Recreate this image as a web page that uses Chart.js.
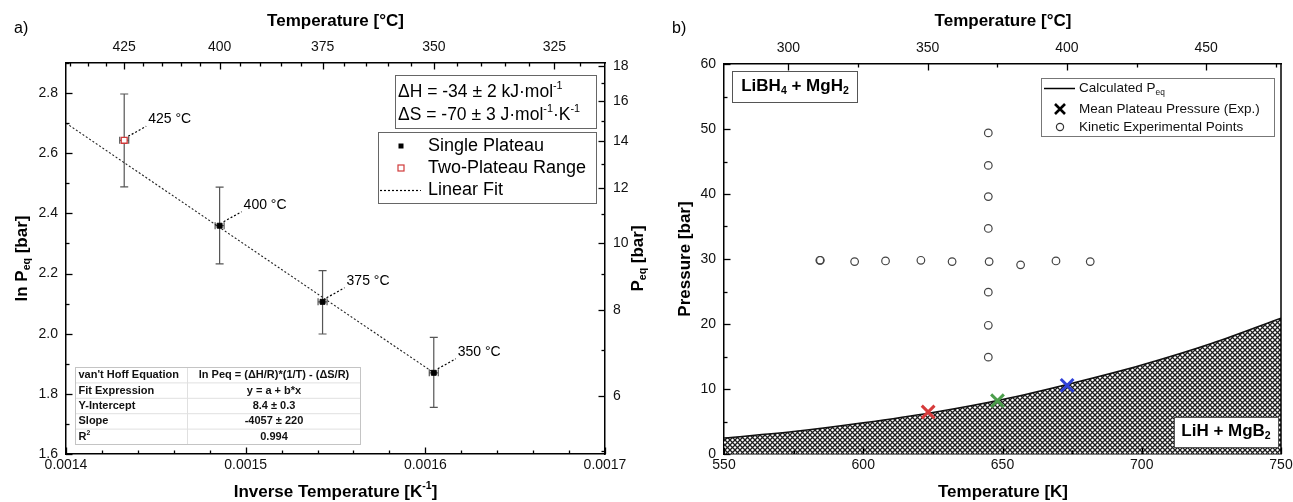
<!DOCTYPE html>
<html>
<head>
<meta charset="utf-8">
<script src="https://cdn.jsdelivr.net/npm/chart.js@4.4.0/dist/chart.umd.min.js"></script>
<style>
  body { margin: 0; background: #fff; }
  #wrap { position: relative; width: 1293px; height: 502px; }
  canvas { position: absolute; top: 0; }
</style>
</head>
<body>
<div id="wrap">
  <canvas id="plotA" width="660" height="502" style="left:0"></canvas>
  <canvas id="plotB" width="633" height="502" style="left:660px"></canvas>
</div>
<script>
// ---- panel a) van't Hoff data ----
const pointTempC = [425, 400, 375, 350];
const invT = [0.0014324, 0.0014855, 0.0015428, 0.0016047];
const lnP = [2.643, 2.359, 2.106, 1.870];
const lnPHigh = [2.797, 2.487, 2.210, 1.988];
const lnPLow = [2.488, 2.232, 1.999, 1.755];
const invTErr = [0.0000025, 0.0000025, 0.0000025, 0.0000025];
const twoPlateau = [true, false, false, false];
const fitX = [0.0014, 0.0016047];
const fitY = [2.700, 1.870];
const topTempC = [425, 400, 375, 350, 325];
const pressureTicks = [6, 8, 10, 12, 14, 16, 18];
const tableRows = [
  ["van't Hoff Equation", "ln Peq = (\u0394H/R)*(1/T) - (\u0394S/R)"],
  ["Fit Expression", "y = a + b*x"],
  ["Y-Intercept", "8.4 \u00b1 0.3"],
  ["Slope", "-4057 \u00b1 220"],
  ["R\u00b2", "0.994"]
];

// ---- panel b) phase diagram data ----
const curveK = [550, 575, 600, 625, 650, 675, 700, 725, 750];
const curveP = [2.46, 3.45, 4.8, 6.4, 8.4, 10.9, 13.7, 17.0, 20.9];
const kineticK = [584.4, 584.6, 596.9, 608.0, 620.7, 631.9, 645.2, 656.5, 669.2, 681.5,
                  644.9, 644.9, 644.9, 644.9, 644.9, 644.9, 644.9];
const kineticP = [29.8, 29.8, 29.6, 29.7, 29.8, 29.6, 29.6, 29.1, 29.7, 29.6,
                  49.4, 44.4, 39.6, 34.7, 24.9, 19.8, 14.9];
const meanK = [623.3, 648.2, 673.2];
const meanP = [6.46, 8.2, 10.55];
const meanColors = ['#d63a3a', '#4c9e4c', '#3142d8'];
const topTempB = [300, 350, 400, 450];

const FONT = "'Liberation Sans', Arial, sans-serif";
const tickFont = { family: FONT, size: 14 };

// text with sub / superscripts: parts = [[text, 'n'|'sub'|'sup'], ...]
function rich(ctx, parts, x, y, size, weight, align) {
  const f = s => weight + ' ' + s + 'px ' + FONT;
  let w = 0;
  for (const [t, m] of parts) {
    ctx.font = f(m === 'n' ? size : size * 0.62);
    w += ctx.measureText(t).width;
  }
  let cx = align === 'center' ? x - w / 2 : align === 'right' ? x - w : x;
  ctx.textAlign = 'left';
  ctx.textBaseline = 'middle';
  for (const [t, m] of parts) {
    const s = m === 'n' ? size : size * 0.62;
    ctx.font = f(s);
    const dy = m === 'sub' ? size * 0.32 : m === 'sup' ? -size * 0.33 : 0;
    ctx.fillText(t, cx, y + dy);
    cx += ctx.measureText(t).width;
  }
}

// inward tick marks, long for major ones
const inwardTicks = {
  id: 'inwardTicks',
  afterDraw(chart) {
    const ctx = chart.ctx, a = chart.chartArea;
    ctx.save();
    ctx.strokeStyle = '#000';
    ctx.lineWidth = 1.3;
    for (const s of Object.values(chart.scales)) {
      for (const t of s.ticks) {
        const len = t.major ? 6.5 : 3.5;
        const p = Math.round(s.getPixelForValue(t.value)) + 0.5;
        ctx.beginPath();
        if (s.position === 'bottom') { ctx.moveTo(p, a.bottom); ctx.lineTo(p, a.bottom - len); }
        else if (s.position === 'top') { ctx.moveTo(p, a.top); ctx.lineTo(p, a.top + len); }
        else if (s.position === 'left') { ctx.moveTo(a.left, p); ctx.lineTo(a.left + len, p); }
        else { ctx.moveTo(a.right, p); ctx.lineTo(a.right - len, p); }
        ctx.stroke();
      }
    }
    ctx.restore();
  }
};

function fixSize(prop, size) {
  return s => {
    s[prop] = size;
    s.paddingLeft = 0; s.paddingRight = 0; s.paddingTop = 0; s.paddingBottom = 0;
  };
}
const axisCommon = {
  type: 'linear',
  grid: { drawOnChartArea: false, drawTicks: false },
  border: { color: '#000', width: 1.5 }
};
function tickOpts(padding, fmt) {
  return {
    autoSkip: false, maxRotation: 0, minRotation: 0, padding: padding,
    color: '#111', font: tickFont,
    callback: (v, i, t) => (t[i] && t[i].major ? fmt(v) : '')
  };
}

// ================= panel a =================
const panelA = {
  id: 'panelA',
  beforeDatasetsDraw(chart) {
    const ctx = chart.ctx, sx = chart.scales.x, sy = chart.scales.y;
    ctx.save();
    ctx.strokeStyle = '#555';
    ctx.lineWidth = 1.2;
    invT.forEach((xv, i) => {
      const px = sx.getPixelForValue(xv);
      const py = sy.getPixelForValue(lnP[i]);
      const hi = sy.getPixelForValue(lnPHigh[i]);
      const lo = sy.getPixelForValue(lnPLow[i]);
      const xl = sx.getPixelForValue(xv - invTErr[i]);
      const xr = sx.getPixelForValue(xv + invTErr[i]);
      ctx.beginPath();
      ctx.moveTo(px, hi); ctx.lineTo(px, lo);
      ctx.moveTo(px - 4, hi); ctx.lineTo(px + 4, hi);
      ctx.moveTo(px - 4, lo); ctx.lineTo(px + 4, lo);
      ctx.moveTo(xl, py); ctx.lineTo(xr, py);
      ctx.moveTo(xl, py - 3.5); ctx.lineTo(xl, py + 3.5);
      ctx.moveTo(xr, py - 3.5); ctx.lineTo(xr, py + 3.5);
      ctx.stroke();
    });
    ctx.restore();
  },
  afterDraw(chart) {
    const ctx = chart.ctx, a = chart.chartArea, sx = chart.scales.x, sy = chart.scales.y;
    ctx.save();
    ctx.fillStyle = '#000';
    // panel letter and axis titles
    rich(ctx, [['a)', 'n']], 14, 29, 16, 'normal', 'left');
    rich(ctx, [['Temperature [\u00b0C]', 'n']], (a.left + a.right) / 2, 21, 17, 'bold', 'center');
    rich(ctx, [['Inverse Temperature [K', 'n'], ['-1', 'sup'], [']', 'n']], (a.left + a.right) / 2, 492, 17, 'bold', 'center');
    ctx.save();
    ctx.translate(22, (a.top + a.bottom) / 2);
    ctx.rotate(-Math.PI / 2);
    rich(ctx, [['ln P', 'n'], ['eq', 'sub'], [' [bar]', 'n']], 0, 0, 17, 'bold', 'center');
    ctx.restore();
    ctx.save();
    ctx.translate(638, (a.top + a.bottom) / 2);
    ctx.rotate(-Math.PI / 2);
    rich(ctx, [['P', 'n'], ['eq', 'sub'], [' [bar]', 'n']], 0, 0, 17, 'bold', 'center');
    ctx.restore();

    // temperature labels with dotted leaders
    ctx.strokeStyle = '#000';
    ctx.lineWidth = 1.2;
    ctx.setLineDash([2, 2]);
    invT.forEach((xv, i) => {
      const px = sx.getPixelForValue(xv), py = sy.getPixelForValue(lnP[i]);
      ctx.beginPath();
      ctx.moveTo(px + 4, py - 4);
      ctx.lineTo(px + 22, py - 14);
      ctx.stroke();
      rich(ctx, [[pointTempC[i] + ' \u00b0C', 'n']], px + 24, py - 21, 14, 'normal', 'left');
    });
    ctx.setLineDash([]);

    // thermodynamic box
    ctx.strokeStyle = '#666';
    ctx.lineWidth = 1;
    ctx.strokeRect(395.5, 75.5, 201, 53);
    rich(ctx, [['\u0394H = -34 \u00b1 2 kJ\u00b7mol', 'n'], ['-1', 'sup']], 398, 92, 17.5, 'normal', 'left');
    rich(ctx, [['\u0394S = -70 \u00b1 3 J\u00b7mol', 'n'], ['-1', 'sup'], ['\u00b7K', 'n'], ['-1', 'sup']], 398, 115, 17.5, 'normal', 'left');

    // legend box
    ctx.fillStyle = '#fff';
    ctx.fillRect(378.5, 132.5, 218, 71);
    ctx.strokeRect(378.5, 132.5, 218, 71);
    ctx.fillStyle = '#000';
    ctx.fillRect(398.5, 143.5, 5, 5);
    ctx.strokeStyle = '#d03a3a';
    ctx.lineWidth = 1.2;
    ctx.strokeRect(398, 165, 6, 6);
    ctx.strokeStyle = '#000';
    ctx.setLineDash([2, 2]);
    ctx.beginPath();
    ctx.moveTo(380, 190.5); ctx.lineTo(421, 190.5);
    ctx.stroke();
    ctx.setLineDash([]);
    ctx.fillStyle = '#000';
    rich(ctx, [['Single Plateau', 'n']], 428, 146, 18, 'normal', 'left');
    rich(ctx, [['Two-Plateau Range', 'n']], 428, 168, 18, 'normal', 'left');
    rich(ctx, [['Linear Fit', 'n']], 428, 190, 18, 'normal', 'left');

    // fit table
    const tx0 = 75.5, tx1 = 187.5, tx2 = 360.5, ty0 = 367.5, rh = 15.4;
    ctx.fillStyle = 'rgba(255,255,255,0.9)';
    ctx.fillRect(tx0, ty0, tx2 - tx0, rh * tableRows.length);
    ctx.strokeStyle = '#e0e0e0';
    ctx.lineWidth = 1;
    for (let r = 1; r < tableRows.length; r++) {
      ctx.beginPath();
      ctx.moveTo(tx0, ty0 + r * rh); ctx.lineTo(tx2, ty0 + r * rh);
      ctx.stroke();
    }
    ctx.beginPath();
    ctx.moveTo(tx1, ty0); ctx.lineTo(tx1, ty0 + rh * tableRows.length);
    ctx.stroke();
    ctx.strokeStyle = '#c4c4c4';
    ctx.strokeRect(tx0, ty0, tx2 - tx0, rh * tableRows.length);
    ctx.fillStyle = '#111';
    tableRows.forEach((row, r) => {
      const cy = ty0 + rh * (r + 0.5);
      if (row[0] === 'R\u00b2') {
        rich(ctx, [['R', 'n'], ['2', 'sup']], tx0 + 3, cy, 11, 'bold', 'left');
      } else {
        rich(ctx, [[row[0], 'n']], tx0 + 3, cy, 11, 'bold', 'left');
      }
      rich(ctx, [[row[1], 'n']], (tx1 + tx2) / 2, cy, 11, 'bold', 'center');
    });
    ctx.restore();
  }
};

const chartA = new Chart(document.getElementById('plotA').getContext('2d'), {
  type: 'scatter',
  data: {
    datasets: [{
      label: 'Linear Fit',
      data: fitX.map((x, i) => ({ x: x, y: fitY[i] })),
      showLine: true,
      borderColor: '#222',
      borderWidth: 1.1,
      borderDash: [2, 2],
      pointRadius: 0,
      fill: false,
      order: 3
    }, {
      label: 'Single Plateau',
      data: invT.map((x, i) => ({ x: x, y: lnP[i] })).filter((p, i) => !twoPlateau[i]),
      pointStyle: 'rect',
      pointRadius: 3.5,
      backgroundColor: '#000',
      borderColor: '#000',
      borderWidth: 1,
      order: 1
    }, {
      label: 'Two-Plateau Range',
      data: invT.map((x, i) => ({ x: x, y: lnP[i] })).filter((p, i) => twoPlateau[i]),
      pointStyle: 'rect',
      pointRadius: 4.2,
      backgroundColor: '#fff',
      borderColor: '#d03a3a',
      borderWidth: 1.3,
      order: 2
    }]
  },
  options: {
    responsive: false,
    animation: false,
    devicePixelRatio: 1,
    layout: { padding: 0 },
    plugins: { legend: { display: false }, tooltip: { enabled: false } },
    scales: {
      x: Object.assign({}, axisCommon, {
        position: 'bottom', min: 0.0014, max: 0.0017,
        afterBuildTicks: s => {
          const t = [];
          for (let i = 0; i <= 15; i++) t.push({ value: +(0.0014 + i * 0.00002).toFixed(6), major: i % 5 === 0 });
          s.ticks = t;
        },
        ticks: tickOpts(3, v => v.toFixed(4)),
        afterFit: fixSize('height', 48)
      }),
      xTop: Object.assign({}, axisCommon, {
        position: 'top', min: 0.0014, max: 0.0017,
        afterBuildTicks: s => {
          const t = [];
          for (let c = 440; c >= 320; c -= 5) t.push({ value: 1 / (c + 273.15), major: topTempC.includes(c) });
          s.ticks = t;
        },
        ticks: tickOpts(7, v => String(Math.round(1 / v - 273.15))),
        afterFit: fixSize('height', 63)
      }),
      y: Object.assign({}, axisCommon, {
        position: 'left', min: 1.6, max: 2.9,
        afterBuildTicks: s => {
          const t = [];
          for (let i = 0; i <= 13; i++) t.push({ value: +(1.6 + i * 0.1).toFixed(1), major: i % 2 === 0 });
          s.ticks = t;
        },
        ticks: tickOpts(8, v => v.toFixed(1)),
        afterFit: fixSize('width', 66)
      }),
      yR: Object.assign({}, axisCommon, {
        position: 'right', min: 1.6, max: 2.9,
        afterBuildTicks: s => {
          const t = [];
          for (let p = 5; p <= 18; p++) t.push({ value: Math.log(p), major: pressureTicks.includes(p) });
          s.ticks = t;
        },
        ticks: tickOpts(8, v => String(Math.round(Math.exp(v)))),
        afterFit: fixSize('width', 55)
      })
    }
  },
  plugins: [panelA, inwardTicks]
});

// ================= panel b =================
function hatchPattern() {
  const c = document.createElement('canvas');
  c.width = 5; c.height = 5;
  const g = c.getContext('2d');
  g.fillStyle = '#fff';
  g.fillRect(0, 0, 5, 5);
  g.strokeStyle = '#1e1e1e';
  g.lineWidth = 1.25;
  g.beginPath();
  g.moveTo(-1, -1); g.lineTo(6, 6);
  g.moveTo(6, -1); g.lineTo(-1, 6);
  g.stroke();
  return g.createPattern(c, 'repeat');
}

const panelB = {
  id: 'panelB',
  afterDraw(chart) {
    const ctx = chart.ctx, a = chart.chartArea;
    ctx.save();
    // right frame line
    ctx.strokeStyle = '#000';
    ctx.lineWidth = 1.5;
    ctx.beginPath();
    ctx.moveTo(a.right, a.top); ctx.lineTo(a.right, a.bottom);
    ctx.stroke();

    ctx.fillStyle = '#000';
    rich(ctx, [['b)', 'n']], 12, 29, 16, 'normal', 'left');
    rich(ctx, [['Temperature [\u00b0C]', 'n']], 343, 21, 17, 'bold', 'center');
    rich(ctx, [['Temperature [K]', 'n']], 343, 492, 17, 'bold', 'center');
    ctx.save();
    ctx.translate(25, (a.top + a.bottom) / 2);
    ctx.rotate(-Math.PI / 2);
    rich(ctx, [['Pressure [bar]', 'n']], 0, 0, 17, 'bold', 'center');
    ctx.restore();

    // phase labels
    ctx.strokeStyle = '#555';
    ctx.lineWidth = 1;
    ctx.fillStyle = '#fff';
    ctx.fillRect(72.5, 71.5, 125, 31);
    ctx.strokeRect(72.5, 71.5, 125, 31);
    ctx.fillRect(514.5, 417.5, 104, 30);
    ctx.strokeRect(514.5, 417.5, 104, 30);
    ctx.fillStyle = '#000';
    rich(ctx, [['LiBH', 'n'], ['4', 'sub'], [' + MgH', 'n'], ['2', 'sub']], 135, 86, 17, 'bold', 'center');
    rich(ctx, [['LiH + MgB', 'n'], ['2', 'sub']], 566, 431, 17, 'bold', 'center');

    // legend
    ctx.strokeStyle = '#777';
    ctx.fillStyle = '#fff';
    ctx.fillRect(381.5, 78.5, 233, 58);
    ctx.strokeRect(381.5, 78.5, 233, 58);
    ctx.strokeStyle = '#000';
    ctx.lineWidth = 1.5;
    ctx.beginPath();
    ctx.moveTo(384, 88.5); ctx.lineTo(415, 88.5);
    ctx.stroke();
    ctx.lineWidth = 2.6;
    ctx.beginPath();
    ctx.moveTo(395, 104); ctx.lineTo(405, 114);
    ctx.moveTo(405, 104); ctx.lineTo(395, 114);
    ctx.stroke();
    ctx.strokeStyle = '#333';
    ctx.lineWidth = 1.2;
    ctx.beginPath();
    ctx.arc(400, 127, 3.6, 0, Math.PI * 2);
    ctx.stroke();
    ctx.fillStyle = '#111';
    rich(ctx, [['Calculated P', 'n'], ['eq', 'sub']], 419, 88, 13.5, 'normal', 'left');
    rich(ctx, [['Mean Plateau Pressure (Exp.)', 'n']], 419, 109, 13.5, 'normal', 'left');
    rich(ctx, [['Kinetic Experimental Points', 'n']], 419, 127, 13.5, 'normal', 'left');
    ctx.restore();
  }
};

const chartB = new Chart(document.getElementById('plotB').getContext('2d'), {
  type: 'scatter',
  data: {
    datasets: [{
      label: 'Calculated Peq',
      data: curveK.map((x, i) => ({ x: x, y: curveP[i] })),
      showLine: true,
      borderColor: '#111',
      borderWidth: 1.5,
      backgroundColor: hatchPattern(),
      fill: 'origin',
      pointRadius: 0,
      cubicInterpolationMode: 'monotone',
      order: 3
    }, {
      label: 'Kinetic Experimental Points',
      data: kineticK.map((x, i) => ({ x: x, y: kineticP[i] })),
      pointStyle: 'circle',
      pointRadius: 3.8,
      backgroundColor: 'rgba(255,255,255,0)',
      borderColor: '#444',
      borderWidth: 1.2,
      order: 2
    }, {
      label: 'Mean Plateau Pressure (Exp.)',
      data: meanK.map((x, i) => ({ x: x, y: meanP[i] })),
      pointStyle: 'crossRot',
      pointRadius: 9,
      borderColor: meanColors,
      borderWidth: 3,
      order: 1
    }]
  },
  options: {
    responsive: false,
    animation: false,
    devicePixelRatio: 1,
    layout: { padding: { right: 12 } },
    plugins: { legend: { display: false }, tooltip: { enabled: false } },
    scales: {
      x: Object.assign({}, axisCommon, {
        position: 'bottom', min: 550, max: 750,
        afterBuildTicks: s => {
          const t = [];
          for (let k = 550; k <= 750; k += 25) t.push({ value: k, major: k % 50 === 0 });
          s.ticks = t;
        },
        ticks: tickOpts(3, v => String(v)),
        afterFit: fixSize('height', 48)
      }),
      xTop: Object.assign({}, axisCommon, {
        position: 'top', min: 550, max: 750,
        afterBuildTicks: s => {
          const t = [];
          for (let c = 300; c <= 475; c += 25) t.push({ value: c + 273.15, major: topTempB.includes(c) });
          s.ticks = t;
        },
        ticks: tickOpts(7, v => String(Math.round(v - 273.15))),
        afterFit: fixSize('height', 64)
      }),
      y: Object.assign({}, axisCommon, {
        position: 'left', min: 0, max: 60,
        afterBuildTicks: s => {
          const t = [];
          for (let p = 0; p <= 60; p += 5) t.push({ value: p, major: p % 10 === 0 });
          s.ticks = t;
        },
        ticks: tickOpts(8, v => String(v)),
        afterFit: fixSize('width', 64)
      })
    }
  },
  plugins: [panelB, inwardTicks]
});
</script>
</body>
</html>
